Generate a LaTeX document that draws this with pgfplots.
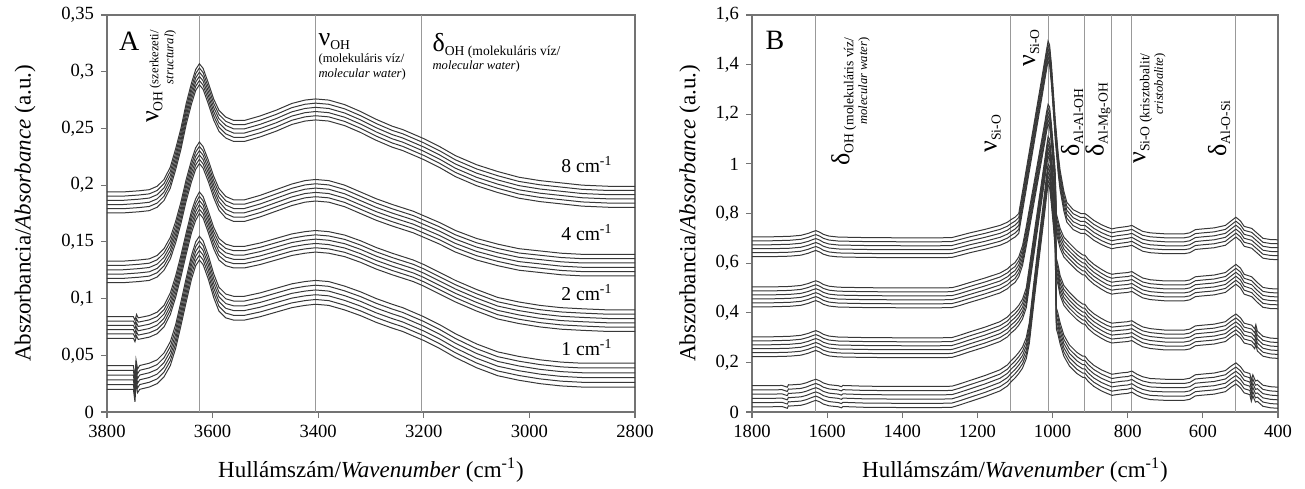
\documentclass[border=0pt]{standalone}
\usepackage{fontspec}
\setmainfont{Liberation Serif}
\usepackage{pgfplots}
\usepackage{pgfplotstable}
\pgfplotsset{compat=1.18}

% ---------- panel A: OH stretching region, top spectrum of each set ----------
\pgfplotstableread{
x y
3800 0.194
3770 0.194
3740 0.195
3720 0.196
3705 0.199
3692 0.205
3680 0.216
3670 0.232
3660 0.250
3650 0.272
3640 0.290
3632 0.302
3625 0.307
3618 0.303
3608 0.290
3598 0.276
3588 0.266
3575 0.260
3560 0.257
3540 0.257
3510 0.261
3480 0.266
3450 0.272
3425 0.275
3405 0.276
3380 0.275
3350 0.271
3320 0.265
3290 0.258
3260 0.252
3240 0.249
3220 0.245
3200 0.241
3170 0.234
3140 0.226
3100 0.218
3060 0.212
3020 0.207
2980 0.204
2940 0.202
2900 0.200
2850 0.199
2800 0.199
}\Aeight

\pgfplotstableread{
x y
3800 0.133
3770 0.133
3740 0.134
3720 0.135
3705 0.138
3692 0.144
3680 0.154
3670 0.168
3660 0.185
3650 0.205
3640 0.222
3632 0.233
3625 0.238
3618 0.234
3608 0.222
3598 0.208
3588 0.197
3575 0.190
3560 0.187
3540 0.187
3510 0.191
3480 0.196
3450 0.201
3425 0.204
3405 0.205
3380 0.204
3350 0.200
3320 0.194
3290 0.188
3260 0.183
3240 0.180
3220 0.177
3200 0.173
3170 0.167
3140 0.160
3100 0.153
3060 0.148
3020 0.144
2980 0.142
2940 0.140
2900 0.139
2850 0.139
2800 0.139
}\Afour

\pgfplotstableread{
x y
3800 0.084
3770 0.084
3750 0.084
3747 0.081
3744 0.086
3741 0.083
3720 0.085
3705 0.088
3692 0.094
3680 0.105
3670 0.120
3660 0.138
3650 0.158
3640 0.177
3632 0.188
3625 0.194
3618 0.190
3608 0.177
3598 0.163
3588 0.153
3575 0.148
3560 0.146
3540 0.146
3510 0.149
3480 0.153
3450 0.157
3425 0.159
3405 0.160
3380 0.159
3350 0.156
3320 0.151
3290 0.145
3260 0.140
3240 0.137
3220 0.134
3200 0.130
3170 0.123
3140 0.116
3100 0.108
3060 0.101
3020 0.097
2980 0.094
2940 0.092
2900 0.091
2850 0.090
2800 0.090
}\Atwo

\pgfplotstableread{
x y
3800 0.041
3770 0.041
3750 0.041
3747 0.030
3745 0.046
3742 0.038
3738 0.041
3720 0.043
3705 0.046
3692 0.052
3680 0.062
3670 0.077
3660 0.097
3650 0.118
3640 0.138
3632 0.150
3625 0.155
3618 0.151
3608 0.138
3598 0.122
3588 0.110
3575 0.104
3560 0.102
3540 0.102
3510 0.105
3480 0.109
3450 0.113
3425 0.115
3405 0.116
3380 0.115
3350 0.111
3320 0.106
3290 0.100
3260 0.095
3240 0.092
3220 0.088
3200 0.084
3170 0.077
3140 0.069
3100 0.060
3060 0.053
3020 0.049
2980 0.046
2940 0.044
2900 0.043
2850 0.043
2800 0.043
}\Aone

% ---------- panel B: fingerprint region, top spectrum of each set ----------
\pgfplotstableread{
x y
1800 0.706
1750 0.706
1700 0.708
1670 0.712
1650 0.720
1640 0.726
1630 0.731
1620 0.725
1610 0.716
1595 0.709
1570 0.705
1500 0.703
1400 0.702
1300 0.702
1268 0.703
1250 0.710
1220 0.722
1180 0.736
1140 0.752
1120 0.765
1111 0.775
1100 0.785
1090 0.800
1080 0.889
1070 0.978
1060 1.067
1050 1.156
1040 1.245
1030 1.334
1020 1.424
1016 1.460
1012 1.495
1008 1.480
1003 1.400
997 1.270
993 1.180
985 1.040
980 0.975
970 0.890
962 0.845
945 0.815
925 0.800
914 0.800
905 0.790
890 0.772
870 0.755
855 0.745
842 0.738
830 0.742
815 0.745
800 0.748
789 0.752
775 0.740
760 0.728
740 0.722
700 0.718
650 0.718
635 0.722
620 0.735
600 0.738
570 0.742
540 0.752
525 0.770
512 0.785
500 0.770
490 0.748
470 0.740
455 0.720
440 0.700
420 0.695
400 0.694
}\Bone

\pgfplotstableread{
x y
1800 0.504
1750 0.504
1700 0.506
1670 0.510
1650 0.518
1640 0.524
1630 0.529
1620 0.523
1610 0.514
1595 0.507
1570 0.503
1500 0.501
1400 0.500
1300 0.500
1268 0.501
1250 0.508
1220 0.522
1180 0.540
1140 0.560
1120 0.577
1111 0.590
1100 0.602
1090 0.625
1080 0.670
1070 0.748
1060 0.833
1050 0.918
1040 1.003
1030 1.088
1020 1.173
1016 1.210
1012 1.240
1008 1.230
1003 1.160
997 1.050
993 0.970
990 0.800
985 0.770
980 0.740
970 0.705
955 0.680
935 0.650
920 0.633
914 0.632
905 0.615
890 0.595
870 0.575
855 0.562
842 0.555
830 0.558
815 0.560
800 0.562
789 0.566
775 0.553
760 0.540
740 0.533
700 0.528
650 0.528
635 0.532
620 0.545
600 0.548
570 0.552
540 0.562
525 0.580
512 0.595
500 0.580
490 0.555
470 0.545
455 0.522
440 0.502
420 0.497
400 0.496
}\Btwo

\pgfplotstableread{
x y
1800 0.303
1750 0.303
1700 0.305
1670 0.309
1650 0.317
1640 0.323
1630 0.328
1620 0.322
1610 0.313
1595 0.306
1570 0.302
1500 0.300
1400 0.299
1300 0.299
1268 0.300
1250 0.308
1220 0.323
1180 0.342
1140 0.364
1120 0.383
1111 0.398
1100 0.412
1090 0.430
1080 0.455
1070 0.500
1060 0.605
1050 0.710
1040 0.815
1030 0.920
1020 1.025
1016 1.070
1012 1.110
1008 1.100
1003 1.030
997 0.930
993 0.850
990 0.620
985 0.590
980 0.550
970 0.510
955 0.482
935 0.452
920 0.435
914 0.434
905 0.416
890 0.396
870 0.377
855 0.365
842 0.358
830 0.360
815 0.362
800 0.364
789 0.368
775 0.355
760 0.343
740 0.336
700 0.330
650 0.330
635 0.334
620 0.347
600 0.350
570 0.354
540 0.364
525 0.382
512 0.395
500 0.380
490 0.358
470 0.350
462 0.335
459 0.352
455 0.326
440 0.305
420 0.298
400 0.296
}\Bthree

\pgfplotstableread{
x y
1800 0.106
1750 0.106
1720 0.107
1706 0.100
1703 0.110
1700 0.109
1670 0.112
1655 0.118
1650 0.121
1640 0.127
1630 0.132
1620 0.126
1610 0.117
1595 0.110
1570 0.106
1562 0.102
1558 0.107
1500 0.104
1400 0.103
1300 0.103
1268 0.104
1250 0.112
1220 0.127
1180 0.147
1140 0.170
1120 0.190
1111 0.206
1100 0.222
1090 0.240
1080 0.262
1070 0.300
1062 0.360
1050 0.520
1040 0.650
1030 0.775
1020 0.900
1016 0.955
1012 1.000
1008 0.990
1003 0.920
997 0.820
993 0.740
990 0.420
986 0.400
980 0.360
970 0.310
955 0.270
935 0.240
920 0.225
914 0.225
905 0.208
890 0.188
870 0.170
855 0.160
842 0.152
830 0.155
815 0.158
800 0.160
789 0.165
775 0.152
760 0.142
740 0.135
700 0.132
650 0.132
635 0.136
620 0.150
600 0.153
570 0.157
540 0.167
525 0.185
512 0.198
500 0.183
490 0.162
475 0.155
471 0.128
467 0.150
460 0.125
455 0.128
440 0.108
420 0.102
400 0.100
}\Bfour

\pgfplotsset{
  spec/.style={line width=0.5pt, color=black!78},
  band/.style={line width=0.55pt, color=black!40},
  panel/.style={
    scale only axis, height=198.5pt,
    x dir=reverse, ymin=0,
    axis line style={black!55, line width=0.6pt},
    tick style={black!55, line width=0.6pt},
    tick align=outside, major tick length=3pt,
    xtick pos=bottom, ytick pos=left,
    scaled ticks=false,
    ticklabel style={font=\fontsize{9.3}{10}\selectfont},
    /pgf/number format/assume math mode=true,
    /pgf/number format/use comma,
    /pgf/number format/1000 sep={},
    yticklabel style={/pgf/number format/fixed, /pgf/number format/precision=2},
    label style={font=\fontsize{11.5}{13}\selectfont},
    xlabel={Hullámszám/\textit{Wavenumber} (cm\textsuperscript{-1})},
    ylabel={Abszorbancia/\textit{Absorbance} (a.u.)},
    xlabel style={at={(axis description cs:0.5,-0.146)}, anchor=center},
  },
}
\tikzset{note/.style={inner sep=0pt, font=\fontsize{6.3}{7.5}\selectfont}}
\newcommand{\band}[2]{{\fontsize{13}{13}\selectfont #1}\raisebox{-2pt}{\fontsize{6.8}{7}\selectfont #2}}

\begin{document}
\begin{tikzpicture}
\useasboundingbox (-53.5pt,-38pt) rectangle (599pt,206pt);

% ===== A =====
\begin{axis}[panel, width=264pt,
  xmin=2800, xmax=3800, ymax=0.35,
  xtick={2800,3000,...,3800},
  ytick={0,0.05,0.1,0.15,0.2,0.25,0.3,0.35},
  ylabel style={at={(axis description cs:-0.155,0.5)}, anchor=center}]
\addplot[band] coordinates {(3625,0) (3625,0.35)};
\addplot[band] coordinates {(3405,0) (3405,0.35)};
\addplot[band] coordinates {(3205,0) (3205,0.35)};
\pgfplotsinvokeforeach{0,...,5}{
  \addplot[spec] table[x=x, y expr=\thisrow{y}-#1*0.0037] {\Aeight};
  \addplot[spec] table[x=x, y expr=\thisrow{y}-#1*0.0038] {\Afour};
  \addplot[spec] table[x=x, y expr=\thisrow{y}-#1*0.0038] {\Atwo};
  \addplot[spec] table[x=x, y expr=\thisrow{y}-#1*0.0042] {\Aone};
}
\node[inner sep=0pt, font=\fontsize{14}{14}\selectfont] at (axis cs:3758,0.327) {A};
\node[note, rotate=90, anchor=north east, align=right] at (axis cs:3726,0.337)
  {\band{ν}{OH} (szerkezeti/\\ \textit{structural})};
\node[note, anchor=north west, align=left] at (axis cs:3400,0.334)
  {\band{ν}{OH}\\[1pt] (molekuláris víz/\\ \textit{molecular water})};
\node[note, anchor=north west, align=left] at (axis cs:3184,0.334)
  {\band{δ}{OH (molekuláris víz/}\\ \textit{molecular water})};
\node[anchor=east, inner sep=0pt, font=\fontsize{9.8}{10}\selectfont] at (axis cs:2842,0.218) {8 cm\textsuperscript{-1}};
\node[anchor=east, inner sep=0pt, font=\fontsize{9.8}{10}\selectfont] at (axis cs:2842,0.158) {4 cm\textsuperscript{-1}};
\node[anchor=east, inner sep=0pt, font=\fontsize{9.8}{10}\selectfont] at (axis cs:2842,0.105) {2 cm\textsuperscript{-1}};
\node[anchor=east, inner sep=0pt, font=\fontsize{9.8}{10}\selectfont] at (axis cs:2842,0.0565) {1 cm\textsuperscript{-1}};
\end{axis}

% ===== B =====
\begin{axis}[panel, at={(322.5pt,0pt)}, width=263pt,
  xmin=400, xmax=1800, ymax=1.6,
  xtick={400,600,...,1800},
  ytick={0,0.2,...,1.6},
  ylabel style={at={(axis description cs:-0.118,0.5)}, anchor=center}]
\addplot[band] coordinates {(1630,0) (1630,1.6)};
\addplot[band] coordinates {(1111,0) (1111,1.6)};
\addplot[band] coordinates {(1012,0) (1012,1.6)};
\addplot[band] coordinates {(914,0) (914,1.6)};
\addplot[band] coordinates {(842,0) (842,1.6)};
\addplot[band] coordinates {(789,0) (789,1.6)};
\addplot[band] coordinates {(512,0) (512,1.6)};
\pgfplotsinvokeforeach{0,...,5}{
  \addplot[spec] table[x=x, y expr=\thisrow{y}-#1*0.016] {\Bone};
  \addplot[spec] table[x=x, y expr=\thisrow{y}-#1*0.016] {\Btwo};
  \addplot[spec] table[x=x, y expr=\thisrow{y}-#1*0.016] {\Bthree};
  \addplot[spec] table[x=x, y expr=\thisrow{y}-#1*0.017] {\Bfour};
}
\node[inner sep=0pt, font=\fontsize{14}{14}\selectfont] at (axis cs:1739,1.499) {B};
\node[note, rotate=90, anchor=north east, align=right] at (axis cs:1590,1.511)
  {\band{δ}{OH (molekuláris víz/}\\ \textit{molecular water})};
\node[note, rotate=90, anchor=west] at (axis cs:1159,1.044) {\band{ν}{Si-O}};
\node[note, rotate=90, anchor=west] at (axis cs:1057,1.390) {\band{ν}{Si-O}};
\node[note, rotate=90, anchor=west] at (axis cs:948,1.028) {\band{δ}{Al-Al-OH}};
\node[note, rotate=90, anchor=west] at (axis cs:879,1.028) {\band{δ}{Al-Mg-OH}};
\node[note, rotate=90, anchor=north east, align=right] at (axis cs:786,1.447)
  {\band{ν}{Si-O (krisztobalit/}\\ \textit{cristobalite})};
\node[note, rotate=90, anchor=west] at (axis cs:557,1.028) {\band{δ}{Al-O-Si}};
\end{axis}
\end{tikzpicture}
\end{document}
